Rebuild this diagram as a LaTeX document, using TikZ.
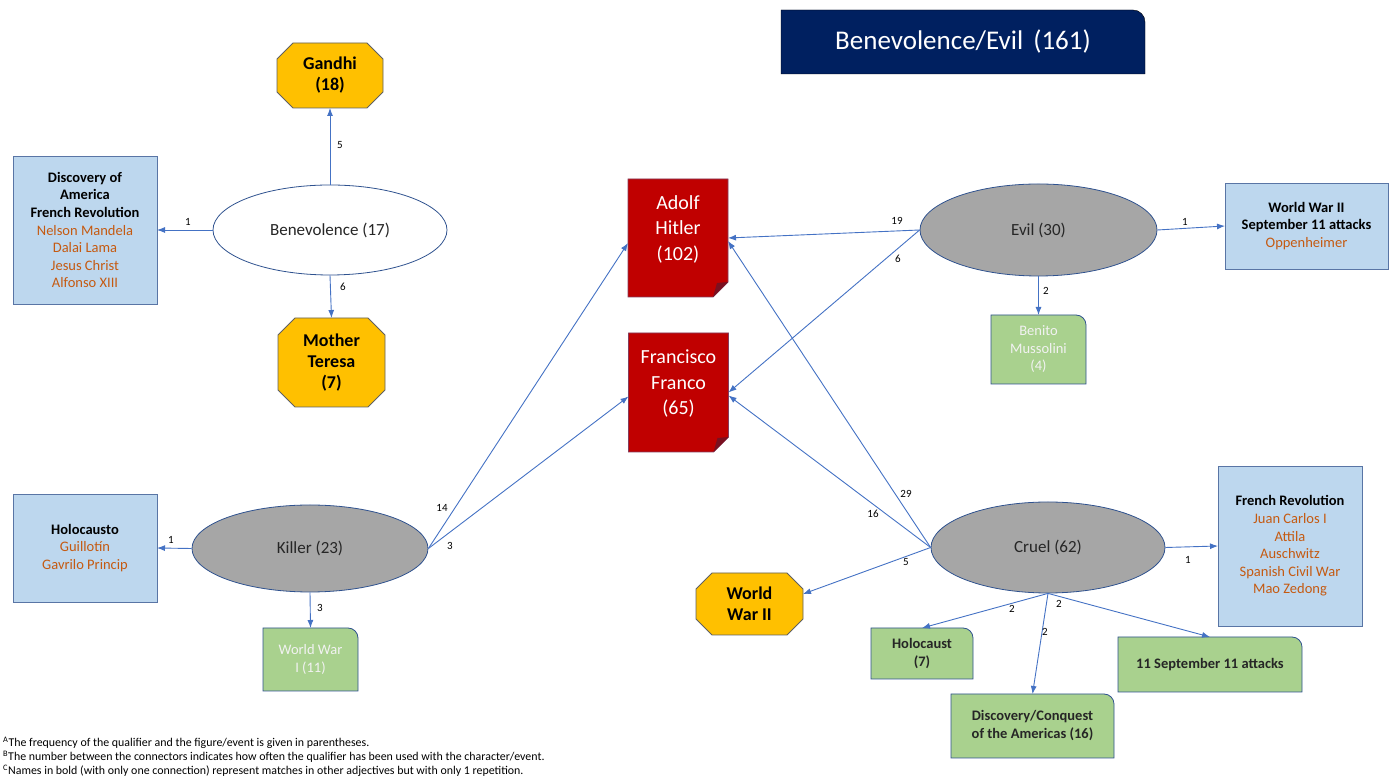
\documentclass[tikz,border=0pt]{standalone}
\usepackage{fontspec}
\setmainfont{Carlito}
\usetikzlibrary{shapes.geometric,arrows.meta,backgrounds}

\definecolor{navy}{HTML}{002060}
\definecolor{gold}{HTML}{FFC000}
\definecolor{bloodred}{HTML}{C00000}
\definecolor{foldred}{HTML}{7A1020}
\definecolor{noteedge}{HTML}{843C5C}
\definecolor{skyblue}{HTML}{BDD7EE}
\definecolor{leaf}{HTML}{A9D18E}
\definecolor{stone}{HTML}{A6A6A6}
\definecolor{linkblue}{HTML}{4472C4}
\definecolor{rimblue}{HTML}{2F528F}
\definecolor{orng}{HTML}{C55A11}
\definecolor{ink}{HTML}{262626}
\definecolor{paper}{HTML}{F2F2F2}

\newcommand\drawoct[2]{\draw[octline]([xshift=#2]#1.north west)--([xshift=-#2]#1.north east)--([yshift=-#2]#1.north east)--([yshift=#2]#1.south east)--([xshift=-#2]#1.south east)--([xshift=#2]#1.south west)--([yshift=#2]#1.south west)--([yshift=-#2]#1.north west)--cycle;}
\newcommand\drawtab[3]{\draw[#1](#2.south west)--(#2.north west)--([xshift=-#3]#2.north east)arc[start angle=90,end angle=0,radius=#3]--(#2.south east)--cycle;}
\newcommand\drawnote[1]{\draw[noteline](#1.south west)--(#1.north west)--(#1.north east)--([yshift=15]#1.south east)--([xshift=-15]#1.south east)--cycle;
\fill[foldred]([yshift=15]#1.south east)--([xshift=-15]#1.south east)--([xshift=-11,yshift=14]#1.south east)--cycle;}

\begin{document}
\begin{tikzpicture}[x=1pt,y=1pt,
 qual/.style={ellipse,draw=rimblue,line width=0.8pt,inner sep=0pt,minimum width=234pt,minimum height=90pt,text=ink,font=\fontsize{17}{20}\selectfont},
 plain/.style={rectangle,inner sep=0pt,outer sep=0pt,align=center},
 octbox/.style={plain,text=black,font=\fontsize{18}{21}\selectfont\bfseries},
 octline/.style={fill=gold,draw=gray!75!black,line width=0.8pt},
 note/.style={plain,minimum width=100pt},
 notetext/.style={plain,text=white,font=\fontsize{20}{25.5}\selectfont},
 noteline/.style={fill=bloodred,draw=noteedge,line width=0.8pt},
 info/.style={plain,draw=rimblue!80,line width=0.8pt,fill=skyblue,minimum width=144pt,font=\fontsize{14.5}{17.6}\selectfont},
 tab/.style={plain,text=ink,font=\fontsize{14.5}{18}\selectfont\bfseries},
 tabline/.style={fill=leaf,draw=rimblue,line width=0.8pt},
 link/.style={draw=linkblue,line width=0.9pt,-{Latex[length=8pt,width=6pt]}},
 lab/.style={inner sep=1pt,text=black,font=\fontsize{11}{13}\selectfont}]
\useasboundingbox (0,0) rectangle (1395,779);

\node (title) at (963,737) [plain,minimum width=364pt,minimum height=64pt,text=white,font=\fontsize{27}{30}\selectfont]{Benevolence/Evil\hspace{4pt} (161)};

\node (ben) at (330,549) [qual,fill=white]{Benevolence (17)};
\node (evil) at (1038.5,549) [qual,fill=stone,minimum width=237pt,minimum height=92pt]{Evil (30)};
\node (killer) at (310,230.5) [qual,fill=stone,minimum width=236pt,minimum height=87pt]{Killer (23)};
\node (cruel) at (1048,231.5) [qual,fill=stone,minimum height=91pt]{Cruel (62)};

\node (gandhi) at (330,703.5) [octbox,minimum width=106pt,minimum height=65pt]{Gandhi\\(18)};
\node (teresa) at (331.5,416.5) [octbox,minimum width=107pt,minimum height=89pt]{Mother\\Teresa\\(7)};
\node (wwii) at (749.5,175) [octbox,minimum width=107pt,minimum height=62pt]{World\\War II};

\node (hitler) at (678,541) [note,minimum height=118pt]{};
\node (hitlertxt) at (678,550) [notetext]{Adolf\\Hitler\\(102)};
\node (franco) at (678.5,386.5) [note,minimum height=119pt]{};
\node (francotxt) at (678.5,395) [notetext]{Francisco\\Franco\\(65)};

\node (disc) at (85,549) [info,minimum height=148pt]{\textbf{Discovery of}\\\textbf{America}\\\textbf{French Revolution}\\\textcolor{orng}{Nelson Mandela}\\\textcolor{orng}{Dalai Lama}\\\textcolor{orng}{Jesus Christ}\\\textcolor{orng}{Alfonso XIII}};
\node (attacks) at (1306.5,553) [info,minimum width=163pt,minimum height=86pt]{\textbf{World War II}\\\textbf{September 11 attacks}\\\textcolor{orng}{Oppenheimer}};
\node (holo) at (85,231) [info,minimum height=108pt]{\textbf{Holocausto}\\\textcolor{orng}{Guillotín}\\\textcolor{orng}{Gavrilo Princip}};
\node (frrev) at (1290,233) [info,minimum height=160pt]{\textbf{French Revolution}\\\textcolor{orng}{Juan Carlos I}\\\textcolor{orng}{Attila}\\\textcolor{orng}{Auschwitz}\\\textcolor{orng}{Spanish Civil War}\\\textcolor{orng}{Mao Zedong}};

\node (muss) at (1038.5,429.5) [tab,minimum width=95pt,minimum height=69pt,text=paper,font=\fontsize{14.5}{17.5}\selectfont]{Benito\\Mussolini\\(4)};
\node (wwi) at (310.5,119.5) [tab,minimum width=95pt,minimum height=63pt,text=paper,font=\fontsize{14.5}{18}\selectfont]{World War\\I (11)};
\node (holoc) at (922,125.5) [tab,minimum width=102pt,minimum height=51pt]{Holocaust\\(7)};
\node (conq) at (1032.5,53) [tab,minimum width=163pt,minimum height=64pt]{Discovery/Conquest\\of the Americas (16)};
\node (sept) at (1210,114.5) [tab,minimum width=184pt,minimum height=55pt]{11 September 11 attacks};

\begin{scope}[on background layer]
\drawtab{fill=navy}{title}{12}
\drawoct{gandhi}{16}
\drawoct{teresa}{17}
\drawoct{wwii}{16}
\drawnote{hitler}
\drawnote{franco}
\drawtab{tabline}{muss}{10}
\drawtab{tabline}{wwi}{10}
\drawtab{tabline}{holoc}{10}
\drawtab{tabline}{conq}{10}
\drawtab{tabline}{sept}{10}
\end{scope}

\draw [link](ben.north)--(gandhi.south);
\draw [link](ben.west)--(disc.east);
\draw [link](ben.south)--(teresa.north);
\draw [link](evil.west)--(hitler.east);
\draw [link](evil.west)--(franco.east);
\draw [link](evil.east)--(attacks.west);
\draw [link](evil.south)--(muss.north);
\draw [link](killer.west)--(holo.east);
\draw [link](killer.south)--(wwi.north);
\draw [link](killer.east)--([yshift=-5]hitler.west);
\draw [link](killer.east)--([yshift=-4]franco.west);
\draw [link](cruel.west)--([yshift=-3]hitler.east);
\draw [link](cruel.west)--([yshift=-3]franco.east);
\draw [link](cruel.west)--([yshift=10]wwii.east);
\draw [link](cruel.south)--(holoc.north);
\draw [link](cruel.south)--(conq.north);
\draw [link](cruel.south)--(sept.north);
\draw [link](cruel.east)--(frrev.west);

\node (l5a) at (340,634) [lab]{5};
\node (l1a) at (188,557) [lab]{1};
\node (l6a) at (343,492) [lab]{6};
\node (l19) at (897,558) [lab]{19};
\node (l6b) at (898,520) [lab]{6};
\node (l1b) at (1185,557) [lab]{1};
\node (l2a) at (1046,488) [lab]{2};
\node (l1c) at (171,239) [lab]{1};
\node (l3a) at (320,171) [lab]{3};
\node (l14) at (442,271) [lab]{14};
\node (l3b) at (450,233) [lab]{3};
\node (l29) at (906,285) [lab]{29};
\node (l16) at (873,265) [lab]{16};
\node (l5b) at (906,217) [lab]{5};
\node (l2b) at (1012,170) [lab]{2};
\node (l2c) at (1045,147) [lab]{2};
\node (l2d) at (1059,175) [lab]{2};
\node (l1d) at (1188,219) [lab]{1};

\node (notes) at (3,22) [anchor=west,align=left,inner sep=0pt,text=black,font=\fontsize{11.9}{14}\selectfont]{\textsuperscript{A}The frequency of the qualifier and the figure/event is given in parentheses.\\\textsuperscript{B}The number between the connectors indicates how often the qualifier has been used with the character/event.\\\textsuperscript{C}Names in bold (with only one connection) represent matches in other adjectives but with only 1 repetition.};
\end{tikzpicture}
\end{document}
